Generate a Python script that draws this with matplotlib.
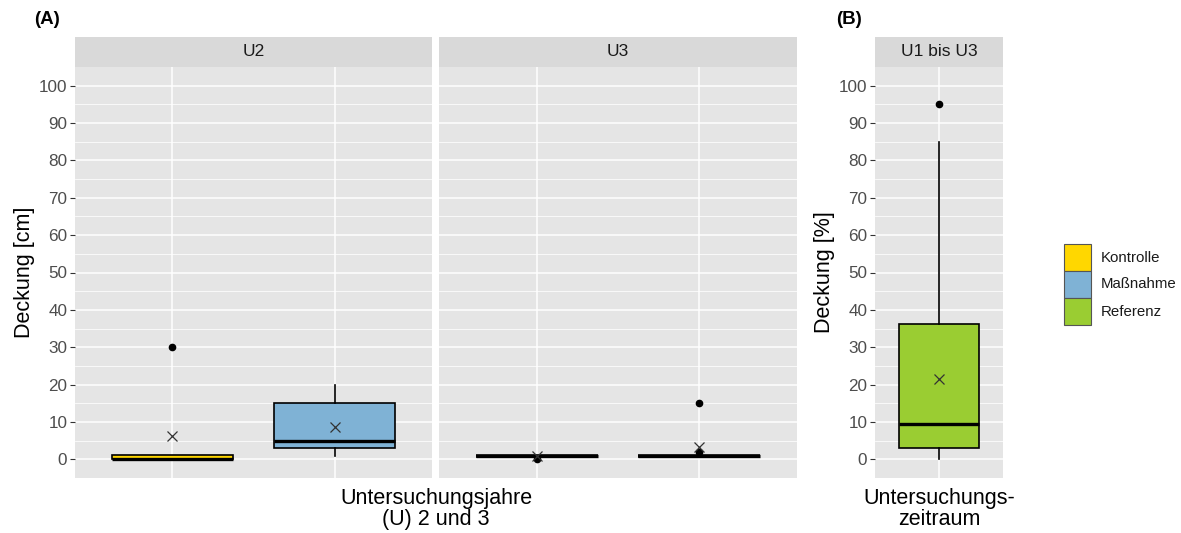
import matplotlib
matplotlib.use("Agg")
import matplotlib.pyplot as plt
from matplotlib.patches import Rectangle

plt.rcParams['font.family'] = ['Liberation Sans', 'DejaVu Sans']

# ---- data ----
groups = ["Kontrolle", "Maßnahme", "Referenz"]
colors = {"Kontrolle": "#FFD700", "Maßnahme": "#7FB2D5", "Referenz": "#9ACD32"}

facets_A = ["U2", "U3"]
facet_B = "U1 bis U3"

# per facet: box stats for Kontrolle, Maßnahme
u2_q1 = [0, 3];     u2_med = [0, 5];    u2_q3 = [1.2, 15]
u2_lo = [0, 1];     u2_hi = [1.2, 20];  u2_mean = [6.2, 8.7]
u2_fliers = [[30], []]

u3_q1 = [1, 1];     u3_med = [1, 1];    u3_q3 = [1, 1]
u3_lo = [1, 1];     u3_hi = [1, 1];     u3_mean = [0.9, 3.3]
u3_fliers = [[0], [15, 2]]

# Referenz over U1..U3
ref_q1 = 3; ref_med = 9.5; ref_q3 = 36.2
ref_lo = 0; ref_hi = 85; ref_mean = 21.6
ref_fliers = [95]

yticks = list(range(0, 101, 10))

# ---- layout ----
W, H = 1181, 533
fig = plt.figure(figsize=(W / 100, H / 100), dpi=100)

def fx(px): return px / W
def fy(py): return 1 - py / H

top_px, bot_px, strip_top = 67, 478, 37
ax_h = fy(top_px) - fy(bot_px)

panels = [
    (75, 432, "U2", [u2_q1, u2_med, u2_q3, u2_lo, u2_hi, u2_mean, u2_fliers], ["Kontrolle", "Maßnahme"], True),
    (439, 797, "U3", [u3_q1, u3_med, u3_q3, u3_lo, u3_hi, u3_mean, u3_fliers], ["Kontrolle", "Maßnahme"], False),
    (875, 1003, facet_B, [[ref_q1], [ref_med], [ref_q3], [ref_lo], [ref_hi], [ref_mean], [ref_fliers]], ["Referenz"], True),
]

axes = []
for (x0, x1, title, st, grp, show_y) in panels:
    ax = fig.add_axes([fx(x0), fy(bot_px), fx(x1) - fx(x0), ax_h])
    ax.set_facecolor("#E5E5E5")
    for s in ax.spines.values():
        s.set_visible(False)
    n = len(grp)
    q1, med, q3, lo, hi, mn, fl = st
    stats = []
    for i in range(n):
        stats.append(dict(q1=q1[i], med=med[i], q3=q3[i], whislo=lo[i], whishi=hi[i],
                          mean=mn[i], fliers=fl[i]))
    pos = list(range(1, n + 1))
    bp = ax.bxp(stats, positions=pos, widths=0.75, patch_artist=True, showmeans=True,
                showcaps=False, manage_ticks=False,
                boxprops=dict(edgecolor="black", linewidth=1.2),
                medianprops=dict(color="black", linewidth=2.4, solid_capstyle="butt"),
                whiskerprops=dict(color="black", linewidth=1.2),
                flierprops=dict(marker="o", markerfacecolor="black", markeredgecolor="black",
                                markersize=4.5, linestyle="none"),
                meanprops=dict(marker="x", markeredgecolor="#333333", markersize=7,
                               markeredgewidth=0.9),
                zorder=3)
    for patch, g in zip(bp["boxes"], grp):
        patch.set_facecolor(colors[g])
    if title == "U3":
        for patch in bp["boxes"]:
            patch.set_linewidth(2.6)
    ax.set_xlim(0.4, n + 0.6)
    ax.set_ylim(-5, 105)
    ax.set_yticks(yticks)
    ax.set_yticks([v + 5 for v in yticks[:-1]], minor=True)
    ax.set_xticks(pos)
    ax.grid(True, which="major", color="white", linewidth=1.1, zorder=0)
    ax.grid(True, which="minor", axis="y", color="white", linewidth=0.55, zorder=0)
    ax.set_axisbelow(True)
    ax.tick_params(axis="x", length=0, labelbottom=False)
    ax.tick_params(axis="y", which="minor", length=0)
    if show_y:
        ax.tick_params(axis="y", which="major", length=3.5, width=0.8, color="#333333",
                       labelsize=12.3, labelcolor="#4D4D4D", pad=2)
    else:
        ax.tick_params(axis="y", which="major", length=0, labelleft=False)
    # strip
    sax = fig.add_axes([fx(x0), fy(top_px), fx(x1) - fx(x0), fy(strip_top) - fy(top_px)])
    sax.set_facecolor("#D9D9D9")
    sax.set_xticks([]); sax.set_yticks([])
    for s in sax.spines.values():
        s.set_visible(False)
    sax.text(0.5, 0.5, title, ha="center", va="center", fontsize=12.5, color="#1A1A1A",
             transform=sax.transAxes)
    axes.append(ax)

axes[0].set_ylabel("Deckung [cm]", fontsize=15.5, color="black", labelpad=3)
axes[2].set_ylabel("Deckung [%]", fontsize=15.5, color="black", labelpad=3)

fig.text(fx((75 + 797) / 2), fy(509), "Untersuchungsjahre\n(U) 2 und 3", ha="center", va="center",
         fontsize=15.5, linespacing=1.05)
fig.text(fx((875 + 1003) / 2), fy(509), "Untersuchungs-\nzeitraum", ha="center", va="center",
         fontsize=15.5, linespacing=1.05)

fig.text(fx(34), fy(19), "(A)", ha="left", va="center", fontsize=13.5, fontweight="bold")
fig.text(fx(836), fy(19), "(B)", ha="left", va="center", fontsize=13.5, fontweight="bold")

# legend drawn in figure pixel coordinates
key_x0, key_x1, key_top, key_h = 1064, 1091, 244, 27
for i, g in enumerate(groups):
    yt = key_top + i * key_h
    fig.patches.append(Rectangle((fx(key_x0), fy(yt + key_h)), fx(key_x1) - fx(key_x0),
                                 fy(yt) - fy(yt + key_h), transform=fig.transFigure,
                                 facecolor=colors[g], edgecolor="#555555", linewidth=0.8))
    fig.text(fx(1101), fy(yt + key_h / 2), g, ha="left", va="center", fontsize=10.8,
             color="#1A1A1A")

fig.savefig("out.png", dpi=100)
